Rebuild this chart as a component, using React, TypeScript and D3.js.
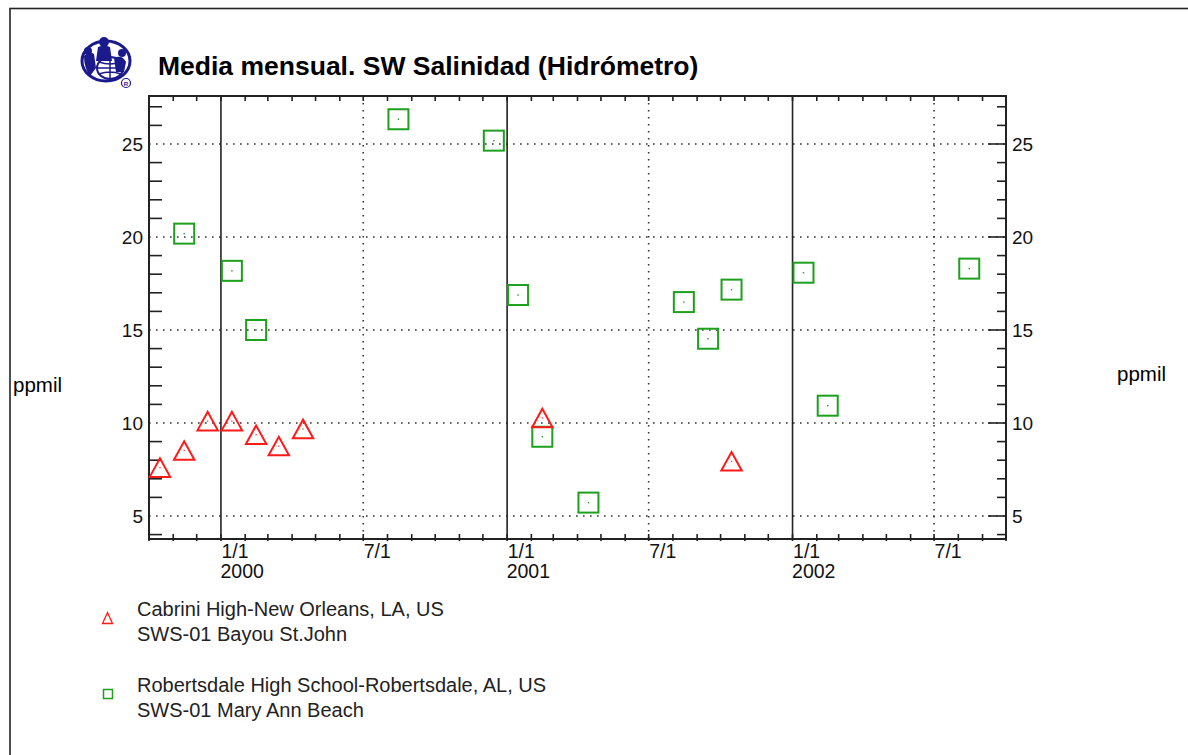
import React from "react";
import * as d3 from "d3";

const TITLE = "Media mensual. SW Salinidad (Hidrómetro)";
const Y_LABEL = "ppmil";

const cabriniMonths = ["1999-10", "1999-11", "1999-12", "2000-01", "2000-02", "2000-03", "2000-04", "2001-02", "2001-10"];
const cabriniValues = [7.6, 8.52, 10.1, 10.1, 9.37, 8.76, 9.68, 10.27, 7.94];

const robertsMonths = ["1999-11", "2000-01", "2000-02", "2000-08", "2000-12", "2001-01", "2001-02", "2001-04", "2001-08", "2001-09", "2001-10", "2002-01", "2002-02", "2002-08"];
const robertsValues = [20.18, 18.18, 15.0, 26.33, 25.18, 16.88, 9.26, 5.72, 16.5, 14.53, 17.17, 18.08, 10.93, 18.3];

const yTickValues = [5, 10, 15, 20, 25];
const xMajorDates = ["2000-01-01", "2000-07-01", "2001-01-01", "2001-07-01", "2002-01-01", "2002-07-01"];
const xMajorLabels = ["1/1", "7/1", "1/1", "7/1", "1/1", "7/1"];
const yearLabels = ["2000", "", "2001", "", "2002", ""];

const legendItems = [
  { lines: ["Cabrini High-New Orleans, LA, US", "SWS-01 Bayou St.John"], kind: "tri" },
  { lines: ["Robertsdale High School-Robertsdale, AL, US", "SWS-01 Mary Ann Beach"], kind: "sq" },
];

const RED = "#ff1a1a";
const GREEN = "#1ea01e";
const NAVY = "#1a1a8c";
const FONT = "'Liberation Sans', Arial, Helvetica, sans-serif";

const parseMonth = (s: string) => {
  const [y, m] = s.split("-").map(Number);
  return new Date(Date.UTC(y, m - 1, 15));
};
const parseDay = (s: string) => {
  const [y, m, d] = s.split("-").map(Number);
  return new Date(Date.UTC(y, m - 1, d));
};

export default function App() {
  const L = 149, R = 1006, T = 96, B = 539;
  const x = d3.scaleUtc().domain([new Date(Date.UTC(1999, 9, 1)), new Date(Date.UTC(2002, 9, 1))]).range([L, R]);
  const y = d3.scaleLinear().domain([3.763, 27.58]).range([B, T]);

  const months = d3.utcMonth.range(x.domain()[0], d3.utcDay.offset(x.domain()[1], 1));
  const yMinor = d3.range(4, 28, 1);
  const majors = xMajorDates.map(parseDay);

  const triPath = (cx: number, cy: number, hw: number, h: number) =>
    `M${cx - hw},${cy + h / 2}L${cx},${cy - h / 2}L${cx + hw},${cy + h / 2}Z`;

  return (
    <svg width={1188} height={755} style={{ position: "absolute", left: 0, top: 0, background: "#fff" }} fontFamily={FONT}>
      <rect x={10} y={8.5} width={1300} height={900} fill="none" stroke="#222" strokeWidth={1.6} />

      {/* logo */}
      <g>
        <ellipse cx={106} cy={61} rx={24} ry={20} fill="none" stroke={NAVY} strokeWidth={3} />
        <ellipse cx={110} cy={68} rx={13} ry={11} fill="none" stroke={NAVY} strokeWidth={2} />
        <path d="M97,68 h26 M110,57 v22 M99,62 q11,4 22,0 M99,74 q11,-4 22,0" stroke={NAVY} strokeWidth={1.5} fill="none" />
        <circle cx={104} cy={42} r={5} fill={NAVY} />
        <path d="M98,47 q6,-3 12,0 l2,14 h-16z" fill={NAVY} />
        <path d="M84,56 q5,-6 10,-2 l2,14 l-6,8 q-6,-8 -6,-20z" fill={NAVY} />
        <circle cx={88} cy={51} r={4} fill={NAVY} />
        <path d="M114,58 q8,-4 12,4 l-2,10 h-8z" fill={NAVY} />
        <circle cx={122} cy={53} r={4} fill={NAVY} />
        <circle cx={126} cy={83} r={4.5} fill="none" stroke={NAVY} strokeWidth={1.2} />
        <text x={126} y={85.5} fontSize={6} fontWeight="bold" textAnchor="middle" fill={NAVY}>R</text>
      </g>

      <text x={158} y={75} fontSize={26.5} fontWeight="bold" fill="#000">{TITLE}</text>

      {/* horizontal dotted grid */}
      {yTickValues.map((v) => (
        <line key={"hg" + v} x1={L} x2={R} y1={y(v)} y2={y(v)} stroke="#333" strokeWidth={1.6} strokeDasharray="1.6,5.4" />
      ))}
      {/* vertical lines */}
      {majors.map((d, i) => (
        <line key={"vg" + i} x1={x(d)} x2={x(d)} y1={T} y2={B}
          stroke={i % 2 === 0 ? "#222" : "#333"} strokeWidth={1.6}
          strokeDasharray={i % 2 === 0 ? undefined : "1.6,5.4"} />
      ))}

      {/* axes frame */}
      <rect x={L} y={T} width={R - L} height={B - T} fill="none" stroke="#222" strokeWidth={2} />

      {/* month ticks */}
      {months.map((d, i) => (
        <g key={"mt" + i}>
          <line x1={x(d)} x2={x(d)} y1={T} y2={T + 5} stroke="#222" strokeWidth={1.6} />
          <line x1={x(d)} x2={x(d)} y1={B - 5} y2={B + 2} stroke="#222" strokeWidth={1.6} />
        </g>
      ))}
      {/* y ticks */}
      {yMinor.map((v) => (
        <g key={"yt" + v}>
          {v % 5 !== 0 && <line x1={L} x2={L + 13} y1={y(v)} y2={y(v)} stroke="#222" strokeWidth={1.6} />}
          <line x1={R} x2={R - (v % 5 === 0 ? 18 : 9)} y1={y(v)} y2={y(v)} stroke="#222" strokeWidth={1.6} />
        </g>
      ))}

      {/* y labels */}
      {yTickValues.map((v) => (
        <g key={"yl" + v}>
          <text x={143} y={y(v) + 6.8} fontSize={19} textAnchor="end" fill="#111">{v}</text>
          <text x={1012} y={y(v) + 6.8} fontSize={19} fill="#111">{v}</text>
        </g>
      ))}
      {/* x labels */}
      {majors.map((d, i) => (
        <g key={"xl" + i}>
          <text x={x(d) + 0.5} y={558} fontSize={19.5} fill="#111">{xMajorLabels[i]}</text>
          {yearLabels[i] && <text x={x(d) - 0.5} y={578} fontSize={19.5} fill="#111">{yearLabels[i]}</text>}
        </g>
      ))}

      <text x={13} y={392} fontSize={20.5} fill="#000">{Y_LABEL}</text>
      <text x={1117} y={381} fontSize={20.5} fill="#000">{Y_LABEL}</text>

      {/* Robertsdale squares */}
      {robertsMonths.map((m, i) => {
        const cx = x(parseMonth(m)), cy = y(robertsValues[i]);
        return (
          <g key={"sq" + i}>
            <rect x={cx - 10} y={cy - 10} width={20} height={20} fill="none" stroke={GREEN} strokeWidth={2} />
            <rect x={cx - 0.7} y={cy - 0.7} width={1.4} height={1.4} fill={GREEN} />
          </g>
        );
      })}
      {/* Cabrini triangles */}
      {cabriniMonths.map((m, i) => {
        const cx = x(parseMonth(m)), cy = y(cabriniValues[i]);
        return (
          <g key={"tr" + i}>
            <path d={triPath(cx, cy, 10.2, 18.5)} fill="none" stroke={RED} strokeWidth={2} />
            <rect x={cx - 0.6} y={cy - 0.6} width={1.2} height={1.2} fill={RED} />
          </g>
        );
      })}

      {/* legend */}
      {legendItems.map((it, i) => {
        const base = i === 0 ? 616 : 692;
        const my = base + 2;
        return (
          <g key={"lg" + i}>
            {it.kind === "tri" ? (
              <path d={triPath(107.5, my, 5, 11)} fill="none" stroke={RED} strokeWidth={1.3} />
            ) : (
              <rect x={103.5} y={my - 4.5} width={9} height={9} fill="none" stroke={GREEN} strokeWidth={1.5} />
            )}
            {it.lines.map((ln, j) => (
              <text key={j} x={137} y={base + j * 24.5} fontSize={20} fill="#222">{ln}</text>
            ))}
          </g>
        );
      })}
    </svg>
  );
}
